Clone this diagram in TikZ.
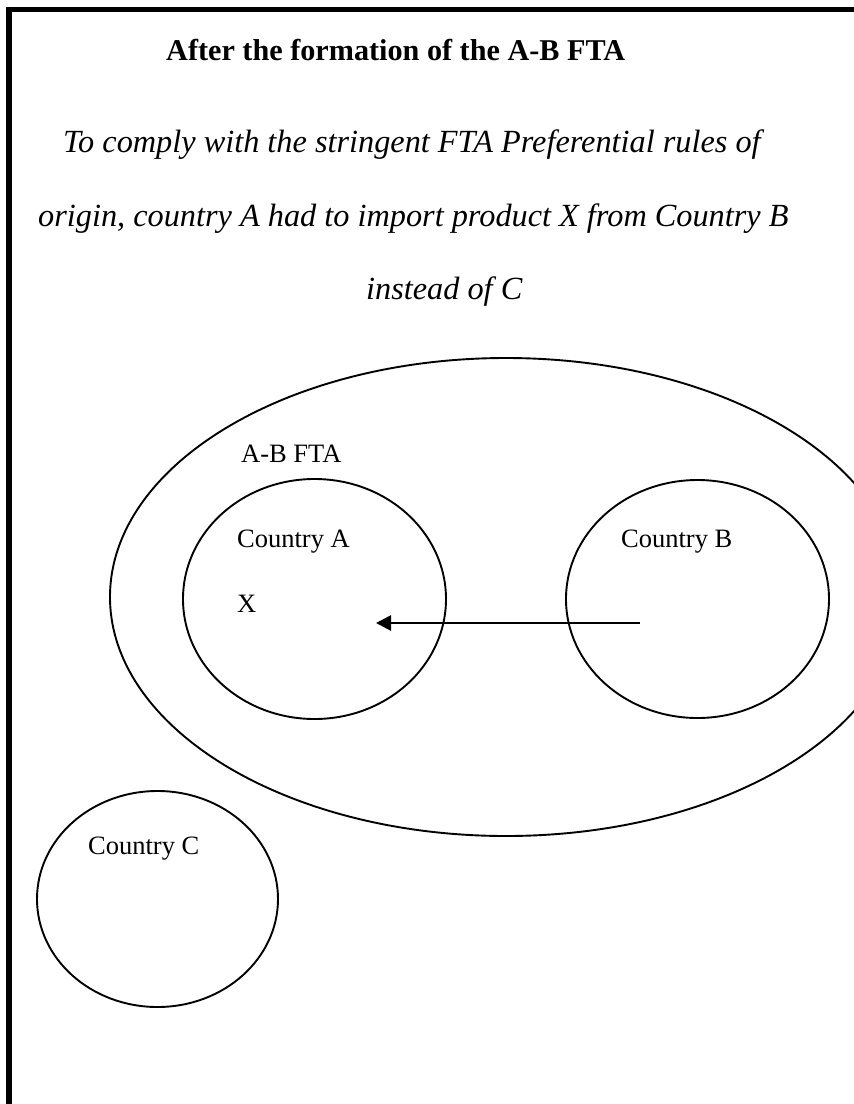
\documentclass[tikz,border=0pt]{standalone}
\usepackage{fontspec}
\setmainfont{Liberation Serif}
\usetikzlibrary{shapes.geometric,arrows.meta}
\begin{document}
\begin{tikzpicture}[x=1pt,y=-1pt,
  frameline/.style={line width=5.5pt},
  region/.style={draw,ellipse,line width=1.9pt,inner sep=0pt},
  body/.style={inner sep=0pt,anchor=base west,font=\fontsize{26.5}{30}\selectfont},
  titletext/.style={inner sep=0pt,anchor=base west,font=\fontsize{30.2}{36}\bfseries\selectfont},
  ittext/.style={inner sep=0pt,anchor=base west,font=\fontsize{32.3}{36}\itshape\selectfont},
  flow/.style={line width=2.8pt,-{Triangle[length=15pt,width=15pt]}}]
\useasboundingbox (0,0) rectangle (854,1104);
\clip (0,0) rectangle (854,1104);
% frame
\coordinate (ftr) at (860,9.5);
\coordinate (ftl) at (9,9.5);
\coordinate (fbl) at (9,1110);
\draw[frameline] (ftr) -- (ftl) -- (fbl);
% heading
\node[titletext] (title) at (166,60) {After the formation of the A-B FTA};
\node[ittext] (l1) at (63,152) {To comply with the stringent FTA Preferential rules of};
\node[ittext] (l2) at (38,226) {origin, country A had to import product X from Country B};
\node[ittext] (l3) at (366,299) {instead of C};
% regions
\node[region,minimum width=792pt,minimum height=478pt] (fta) at (506,597) {};
\node[region,minimum width=263pt,minimum height=240pt] (ca) at (314.5,599) {};
\node[region,minimum width=263pt,minimum height=238pt] (cb) at (697.5,599) {};
\node[region,minimum width=241pt,minimum height=216pt] (cc) at (157.5,899) {};
% labels
\node[body] (ftalbl) at (241,462) {A-B FTA};
\node[body] (calbl) at (237,547) {Country A};
\node[body] (xlbl) at (237,612) {X};
\node[body] (cblbl) at (621,547) {Country B};
\node[body] (cclbl) at (88,854) {Country C};
% arrow
\coordinate (src) at (640,623);
\coordinate (dst) at (376,623);
\draw[flow] (src) -- (dst);
\end{tikzpicture}
\end{document}
